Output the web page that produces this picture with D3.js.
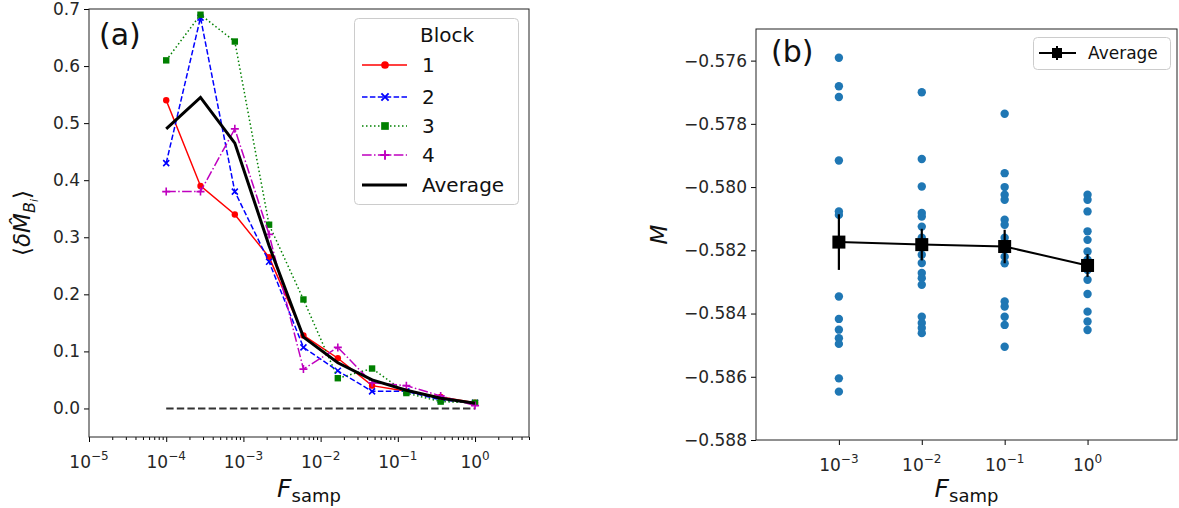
<!DOCTYPE html>
<html><head><meta charset="utf-8">
<script src="https://cdn.jsdelivr.net/npm/d3@7"></script>
<style>
body{margin:0;background:#fff;}
svg{font-family:"DejaVu Sans",sans-serif;}
</style></head>
<body><svg id="c" width="1179" height="508"></svg>
<script>
// ---------- data (panel a) ----------
const fsamp  = [1e-4, 2.78e-4, 7.74e-4, 2.15e-3, 5.99e-3, 1.67e-2, 4.64e-2, 1.29e-1, 3.59e-1, 1];
const block1 = [0.54, 0.39, 0.34, 0.265, 0.128, 0.088, 0.04, 0.03, 0.02, 0.01];
const block2 = [0.43, 0.685, 0.38, 0.257, 0.107, 0.066, 0.03, 0.03, 0.015, 0.01];
const block3 = [0.61, 0.69, 0.643, 0.322, 0.191, 0.053, 0.07, 0.027, 0.012, 0.01];
const block4 = [0.38, 0.38, 0.49, 0.305, 0.069, 0.107, 0.045, 0.04, 0.022, 0.005];
const average = [0.49, 0.545, 0.465, 0.285, 0.125, 0.08, 0.05, 0.032, 0.018, 0.009];
const blockNames = ["1","2","3","4"];
const yTicksA = [0,0.1,0.2,0.3,0.4,0.5,0.6,0.7];
const xTicksA = [1e-5,1e-4,1e-3,1e-2,1e-1,1];
const xTickExpA = ["\u22125","\u22124","\u22123","\u22122","\u22121","0"];

// ---------- data (panel b) ----------
const fsampB = [1e-3, 1e-2, 1e-1, 1];
const mAt1em3 = [-0.57591,-0.57681,-0.57715,-0.57916,-0.58077,-0.58088,-0.58346,-0.58417,-0.58451,-0.58478,-0.58496,-0.58605,-0.58647];
const mAt1em2 = [-0.57700,-0.57911,-0.57998,-0.58082,-0.58093,-0.58125,-0.58160,-0.58214,-0.58240,-0.58272,-0.58288,-0.58309,-0.58410,-0.58430,-0.58446,-0.58462];
const mAt1em1 = [-0.57768,-0.57956,-0.58000,-0.58024,-0.58040,-0.58103,-0.58119,-0.58160,-0.58220,-0.58241,-0.58362,-0.58378,-0.58410,-0.58436,-0.58505];
const mAt1e0  = [-0.58024,-0.58040,-0.58077,-0.58140,-0.58167,-0.58204,-0.58230,-0.58262,-0.58293,-0.58338,-0.58394,-0.58425,-0.58452];
const avgM = [-0.58174,-0.58182,-0.58188,-0.58248];
const errM = [0.00088,0.0005,0.00053,0.00036];
const yTicksB = [-0.588,-0.586,-0.584,-0.582,-0.580,-0.578,-0.576];
const xTickExpB = ["\u22123","\u22122","\u22121","0"];

const svg = d3.select("#c");
const FS = 17;

// ================= PANEL A =================
const A = {l:89, r:529, t:9, b:437};
const xA = d3.scaleLog().domain([1e-5, 5]).range([A.l, A.r]);
const yA = d3.scaleLinear().domain([-0.05, 0.7]).range([A.b, A.t]);
const gA = svg.append("g");
gA.append("clipPath").attr("id","clipA").append("rect")
  .attr("x",A.l).attr("y",A.t).attr("width",A.r-A.l).attr("height",A.b-A.t);

// zero reference line
gA.append("line").attr("x1",xA(1e-4)).attr("x2",xA(1)).attr("y1",yA(0)).attr("y2",yA(0))
  .attr("stroke","#333").attr("stroke-width",2).attr("stroke-dasharray","7.4,3.2");

const styles = [
  {data:block1, color:"#ff0000", dash:null, marker:"o"},
  {data:block2, color:"#0000ff", dash:"5.5,2.4", marker:"x"},
  {data:block3, color:"#008000", dash:"1.5,2.5", marker:"s"},
  {data:block4, color:"#bf00bf", dash:"9.6,2.4,1.5,2.4", marker:"+"}
];
const lineA = d3.line().x((d,i)=>xA(fsamp[i])).y(d=>yA(d));
function drawMarker(g, type, x, y, color, s){
  s = s||1;
  if(type==="o") g.append("circle").attr("cx",x).attr("cy",y).attr("r",3.2*s).attr("fill",color);
  else if(type==="s") g.append("rect").attr("x",x-3.2*s).attr("y",y-3.2*s).attr("width",6.4*s).attr("height",6.4*s).attr("fill",color);
  else if(type==="x") g.append("path").attr("d",`M${x-3*s},${y-3*s}L${x+3*s},${y+3*s}M${x-3*s},${y+3*s}L${x+3*s},${y-3*s}`).attr("stroke",color).attr("stroke-width",1.6*s);
  else if(type==="+") g.append("path").attr("d",`M${x-4*s},${y}L${x+4*s},${y}M${x},${y-4*s}L${x},${y+4*s}`).attr("stroke",color).attr("stroke-width",1.6*s);
}
const plotA = gA.append("g").attr("clip-path","url(#clipA)");
styles.forEach(st=>{
  plotA.append("path").attr("d",lineA(st.data)).attr("fill","none")
    .attr("stroke",st.color).attr("stroke-width",1.5)
    .attr("stroke-dasharray",st.dash);
  st.data.forEach((v,i)=>drawMarker(plotA, st.marker, xA(fsamp[i]), yA(v), st.color));
});
plotA.append("path").attr("d",lineA(average)).attr("fill","none")
  .attr("stroke","#000").attr("stroke-width",3).attr("stroke-linejoin","miter");

// axes A
const minorA = [];
for(let e=-5;e<=0;e++) for(let k=2;k<=9;k++){ const v=k*Math.pow(10,e); if(v<=5) minorA.push(v); }
gA.append("g").attr("transform",`translate(0,${A.b})`)
  .call(d3.axisBottom(xA).tickValues(minorA).tickSize(3).tickFormat(""))
  .call(g=>g.select(".domain").remove());
const xaxA = gA.append("g").attr("transform",`translate(0,${A.b})`)
  .call(d3.axisBottom(xA).tickValues(xTicksA).tickSize(5).tickFormat(""));
xaxA.select(".domain").remove();
xTicksA.forEach((v,i)=>{
  const t = gA.append("text").attr("x",xA(v)).attr("y",A.b+31).attr("text-anchor","middle")
    .attr("font-size",FS).attr("fill","#262626");
  t.append("tspan").text("10");
  t.append("tspan").attr("dy",-8).attr("font-size",12).text(xTickExpA[i]);
});
gA.append("g").attr("transform",`translate(${A.l},0)`)
  .call(d3.axisLeft(yA).tickValues(yTicksA).tickSize(5).tickPadding(4).tickFormat(d3.format(".1f")))
  .call(g=>g.select(".domain").remove())
  .call(g=>g.selectAll("text").attr("font-size",FS).attr("font-family","DejaVu Sans").attr("fill","#262626"));
gA.append("rect").attr("x",A.l).attr("y",A.t).attr("width",A.r-A.l).attr("height",A.b-A.t)
  .attr("fill","none").attr("stroke","#222").attr("stroke-width",1);

// labels A
gA.append("text").attr("x",99).attr("y",45).attr("font-size",30).attr("fill","#111").text("(a)");
{
  const t = gA.append("text").attr("x",(A.l+A.r)/2).attr("y",497).attr("text-anchor","middle").attr("fill","#111");
  t.append("tspan").attr("font-size",25).attr("font-style","italic").text("F");
  t.append("tspan").attr("font-size",18).attr("dy",5).text("samp");
}
{
  const t = gA.append("text").attr("transform",`translate(30,${(A.t+A.b)/2}) rotate(-90)`)
    .attr("text-anchor","middle").attr("fill","#111").attr("font-size",23);
  t.append("tspan").text("\u27E8");
  t.append("tspan").attr("font-style","italic").text("\u03B4M\u0302");
  t.append("tspan").attr("font-style","italic").attr("font-size",16).attr("dy",5).text("B");
  t.append("tspan").attr("font-style","italic").attr("font-size",11).attr("dy",3).text("i");
  t.append("tspan").attr("dy",-8).text("\u27E9");
}

// legend A
const LA = gA.append("g");
LA.append("rect").attr("x",354.5).attr("y",18.5).attr("width",164).attr("height",186).attr("rx",4)
  .attr("fill","#fff").attr("fill-opacity",0.8).attr("stroke","#ccc");
LA.append("text").attr("x",420).attr("y",42).attr("font-size",20).attr("fill","#111").text("Block");
const legY = [65,97,126,155];
styles.forEach((st,i)=>{
  LA.append("line").attr("x1",362).attr("x2",407).attr("y1",legY[i]).attr("y2",legY[i])
    .attr("stroke",st.color).attr("stroke-width",1.5).attr("stroke-dasharray",st.dash);
  drawMarker(LA, st.marker, 385, legY[i], st.color, 1.2);
  LA.append("text").attr("x",422).attr("y",legY[i]+7).attr("font-size",20).attr("fill","#111").text(blockNames[i]);
});
LA.append("line").attr("x1",362).attr("x2",407).attr("y1",185).attr("y2",185).attr("stroke","#000").attr("stroke-width",3);
LA.append("text").attr("x",422).attr("y",192).attr("font-size",20).attr("fill","#111").text("Average");

// ================= PANEL B =================
const B = {l:756, r:1177, t:29, b:440};
const xB = d3.scaleLog().domain([1e-4, 12]).range([B.l, B.r]);
const yB = d3.scaleLinear().domain([-0.588, -0.575]).range([B.b, B.t]);
const gB = svg.append("g");
const cols = [mAt1em3, mAt1em2, mAt1em1, mAt1e0];
cols.forEach((col,i)=>{
  gB.selectAll(null).data(col).enter().append("circle")
    .attr("cx",xB(fsampB[i])).attr("cy",d=>yB(d)).attr("r",4.2).attr("fill","#1f77b4");
});
gB.append("path").attr("d",d3.line().x((d,i)=>xB(fsampB[i])).y(d=>yB(d))(avgM))
  .attr("fill","none").attr("stroke","#000").attr("stroke-width",2);
avgM.forEach((v,i)=>{
  gB.append("line").attr("x1",xB(fsampB[i])).attr("x2",xB(fsampB[i]))
    .attr("y1",yB(v-errM[i])).attr("y2",yB(v+errM[i])).attr("stroke","#000").attr("stroke-width",2.2);
  gB.append("rect").attr("x",xB(fsampB[i])-6.5).attr("y",yB(v)-6.5).attr("width",13).attr("height",13).attr("fill","#000");
});
const xaxB = gB.append("g").attr("transform",`translate(0,${B.b})`)
  .call(d3.axisBottom(xB).tickValues(fsampB).tickSize(5).tickFormat(""));
xaxB.select(".domain").remove();
fsampB.forEach((v,i)=>{
  const t = gB.append("text").attr("x",xB(v)).attr("y",B.b+31).attr("text-anchor","middle")
    .attr("font-size",FS).attr("fill","#262626");
  t.append("tspan").text("10");
  t.append("tspan").attr("dy",-8).attr("font-size",12).text(xTickExpB[i]);
});
gB.append("g").attr("transform",`translate(${B.l},0)`)
  .call(d3.axisLeft(yB).tickValues(yTicksB).tickSize(5).tickPadding(4).tickFormat(d3.format(".3f")))
  .call(g=>g.select(".domain").remove())
  .call(g=>g.selectAll("text").attr("font-size",FS).attr("font-family","DejaVu Sans").attr("fill","#262626"));
gB.append("rect").attr("x",B.l).attr("y",B.t).attr("width",B.r-B.l).attr("height",B.b-B.t)
  .attr("fill","none").attr("stroke","#222").attr("stroke-width",1);
gB.append("text").attr("x",771).attr("y",62).attr("font-size",30).attr("fill","#111").text("(b)");
{
  const t = gB.append("text").attr("x",(B.l+B.r)/2).attr("y",497).attr("text-anchor","middle").attr("fill","#111");
  t.append("tspan").attr("font-size",25).attr("font-style","italic").text("F");
  t.append("tspan").attr("font-size",18).attr("dy",5).text("samp");
}
gB.append("text").attr("transform",`translate(667,${(B.t+B.b)/2}) rotate(-90)`)
  .attr("text-anchor","middle").attr("font-size",23).attr("font-style","italic").attr("fill","#111").text("M");
// legend B
const LB = gB.append("g");
LB.append("rect").attr("x",1033.5).attr("y",37.5).attr("width",137).attr("height",32).attr("rx",4)
  .attr("fill","#fff").attr("fill-opacity",0.8).attr("stroke","#ccc");
LB.append("line").attr("x1",1039).attr("x2",1076).attr("y1",53).attr("y2",53).attr("stroke","#000").attr("stroke-width",2);
LB.append("line").attr("x1",1057).attr("x2",1057).attr("y1",46).attr("y2",60).attr("stroke","#000").attr("stroke-width",2);
LB.append("rect").attr("x",1052).attr("y",48).attr("width",10).attr("height",10).attr("fill","#000");
LB.append("text").attr("x",1088).attr("y",59).attr("font-size",17).attr("fill","#111").text("Average");
</script></body></html>
